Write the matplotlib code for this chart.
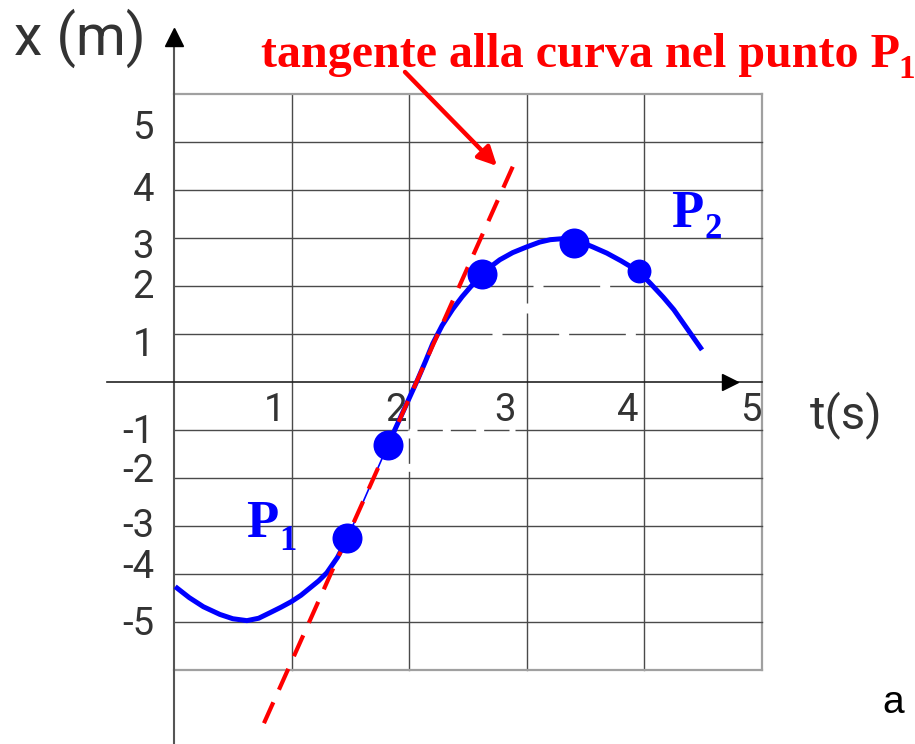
import matplotlib
matplotlib.use("Agg")
import matplotlib.pyplot as plt

# --- data -------------------------------------------------------------
# position-time curve x(t)
curve_t = [0.01, 0.13, 0.25, 0.39, 0.50, 0.62, 0.72, 0.82, 0.91, 1.00,
           1.08, 1.16, 1.23, 1.30, 1.39, 1.47,
           1.82, 2.07, 2.14, 2.20, 2.28, 2.37, 2.45, 2.52, 2.62, 2.70,
           2.77, 2.88, 3.00, 3.11, 3.20, 3.30, 3.40, 3.48, 3.56, 3.68,
           3.80, 3.95, 4.05, 4.16, 4.25, 4.33, 4.41, 4.49]
curve_x = [-4.27, -4.50, -4.69, -4.85, -4.94, -4.98, -4.93, -4.81, -4.70, -4.58,
           -4.45, -4.29, -4.15, -3.98, -3.66, -3.28,
           -1.31, 0.04, 0.44, 0.80, 1.18, 1.52, 1.78, 1.98, 2.25, 2.42,
           2.55, 2.70, 2.82, 2.92, 2.97, 2.99, 2.96, 2.90, 2.82, 2.69,
           2.53, 2.31, 2.06, 1.77, 1.51, 1.23, 0.95, 0.67]

# marked points on the curve (P1 first)
point_t = [1.47, 1.82, 2.62, 3.40, 3.95]
point_x = [-3.25, -1.31, 2.25, 2.90, 2.31]
point_big = [True, True, True, True, False]

# tangent at P1
tangent_slope = 5.49          # m/s
tangent_span = [0.765, 2.89]  # s

# axis ticks
t_ticks = [1, 2, 3, 4, 5]
x_ticks = [5, 4, 3, 2, 1, -1, -2, -3, -4, -5]
t_tick_labels = ["1", "2", "3", "4", "5"]
x_tick_labels = ["5", "4", "3", "2", "1", "-1", "-2", "-3", "-4", "-5"]

# --- layout -----------------------------------------------------------
W, H = 915, 744
PX_T = 117.6      # pixels per second
PX_X = 47.92      # pixels per metre
T0_PX = 174       # pixel column of t = 0
X0_PY = 382       # pixel row of x = 0

def t_of(px):
    return (px - T0_PX) / PX_T

def x_of(py):
    return (X0_PY - py) / PX_X

PT = 0.72  # points per pixel at 100 dpi

fig = plt.figure(figsize=(W / 100, H / 100), dpi=100)
ax = fig.add_axes([0, 0, 1, 1])
ax.set_xlim(t_of(0), t_of(W))
ax.set_ylim(x_of(H), x_of(0))
ax.axis("off")

GRID = "#4a4a4a"
EDGE = "#a0a0a0"
TXT = "#333333"
SANS = ["Roboto", "DejaVu Sans"]

# grid
for tv in range(1, 5):
    ax.plot([tv, tv], [-6, 6], color=GRID, lw=1.0, zorder=1)
ax.plot([5, 5], [-6, 6], color=EDGE, lw=1.6, zorder=1)
for xv in range(-5, 6):
    if xv != 0:
        ax.plot([0, 5], [xv, xv], color=GRID, lw=1.0, zorder=1)
for xv in (-6, 6):
    ax.plot([0, 5], [xv, xv], color=EDGE, lw=1.6, zorder=1)

# white dashed reading guides over the grid
dense = [((2.0, 2.9), (-1, -1)), ((2.0, 2.0), (-1, -2))]
sparse = [((2.7, 4.0), (1, 1)), ((3.05, 4.0), (2, 2)),
          ((3.0, 3.0), (1.45, 2)), ((2.87, 3.1), (0, 0))]
for gt, gx in dense:
    ax.plot(gt, gx, color="white", lw=2.4, dashes=(2.4, 7.6),
            dash_capstyle="butt", zorder=2)
for gt, gx in sparse:
    ax.plot(gt, gx, color="white", lw=2.4, dashes=(3.0, 17.0),
            dash_capstyle="butt", zorder=2)

# axes with arrows
ax.plot([0, 0], [x_of(H), x_of(40)], color="#555555", lw=1.5, zorder=3)
ax.plot([0], [x_of(37)], marker="^", ms=13.5, color="black", zorder=3)
ax.plot([t_of(107), 5], [0, 0], color="#222222", lw=1.2, zorder=3)
ax.plot([t_of(730)], [0], marker=">", ms=12, color="black", zorder=3)

# tick labels
t_dx = [-17, -13.5, -22, -17, -11]
for tv, lab, dx in zip(t_ticks, t_tick_labels, t_dx):
    ax.annotate(lab, xy=(tv, 0), xytext=(dx * PT, -39 * PT),
                textcoords="offset points", ha="center", va="baseline",
                fontsize=27.5, color=TXT, family=SANS)
x_dy = [-3, 11, 20, 12, 22, 13, 4, 11, 4, 13]
for xv, lab, dy in zip(x_ticks, x_tick_labels, x_dy):
    ax.annotate(lab, xy=(0, xv), xytext=(-20 * PT, -dy * PT),
                textcoords="offset points", ha="right", va="baseline",
                fontsize=27.5, color=TXT, family=SANS)

# axis titles
ax.text(t_of(14), x_of(55), "x (m)", ha="left", va="baseline",
        fontsize=41, color=TXT, family=SANS)
ax.text(t_of(810), x_of(428), "t(s)", ha="left", va="baseline",
        fontsize=34, color=TXT, family=SANS)

# curve: thick, with a thin stretch between P1 and the next point
BLUE = "#0000ff"
i1 = curve_t.index(point_t[0])
i2 = curve_t.index(point_t[1])
style = dict(color=BLUE, solid_capstyle="butt", solid_joinstyle="round",
             zorder=4)
ax.plot(curve_t[:i1 + 1], curve_x[:i1 + 1], lw=3.6, **style)
ax.plot(curve_t[i1:i2 + 1], curve_x[i1:i2 + 1], lw=1.2, **style)
ax.plot(curve_t[i2:], curve_x[i2:], lw=3.6, **style)

# tangent line at P1
tan_x = [point_x[0] + tangent_slope * (tv - point_t[0]) for tv in tangent_span]
ax.plot(tangent_span, tan_x, color="red", lw=3.0, dashes=(5.5, 3.3),
        dash_capstyle="butt", zorder=5)

# points
for tv, xv, big in zip(point_t, point_x, point_big):
    ax.plot([tv], [xv], marker="o", ms=21.6 if big else 17.2,
            color=BLUE, mec="none", zorder=6)

# labels P1, P2
SERIF = ["Liberation Serif", "DejaVu Serif"]
p1 = ax.text(t_of(246), x_of(537), "P", ha="left", va="baseline",
             fontsize=38, fontweight="bold", color=BLUE, family=SERIF)
ax.annotate("1", xy=(1, x_of(550)), xycoords=(p1, "data"),
            xytext=(1, 0), textcoords="offset points", ha="left",
            va="baseline", fontsize=25, fontweight="bold", color=BLUE,
            family=SERIF)
p2 = ax.text(t_of(671), x_of(227), "P", ha="left", va="baseline",
             fontsize=38, fontweight="bold", color=BLUE, family=SERIF)
ax.annotate("2", xy=(1, x_of(238)), xycoords=(p2, "data"),
            xytext=(1, 0), textcoords="offset points", ha="left",
            va="baseline", fontsize=25, fontweight="bold", color=BLUE,
            family=SERIF)

# caption for the tangent, with pointer
cap = ax.text(t_of(261), x_of(67), "tangente alla curva nel punto P",
              ha="left", va="baseline", fontsize=34.6, fontweight="bold",
              color="red", family=SERIF)
ax.annotate("1", xy=(1, x_of(78)), xycoords=(cap, "data"),
            xytext=(-1, 0), textcoords="offset points", ha="left",
            va="baseline", fontsize=24, fontweight="bold", color="red",
            family=SERIF)
ax.annotate("", xy=(t_of(497), x_of(166)), xytext=(t_of(405), x_of(72)),
            arrowprops=dict(arrowstyle="-|>", color="red", lw=3.2,
                            mutation_scale=28, shrinkA=0, shrinkB=0),
            zorder=5)

# panel letter
ax.text(t_of(882), x_of(713), "a", ha="left", va="baseline", fontsize=28,
        color="black", family=["Liberation Sans", "DejaVu Sans"])

fig.savefig("out.png", dpi=100)
